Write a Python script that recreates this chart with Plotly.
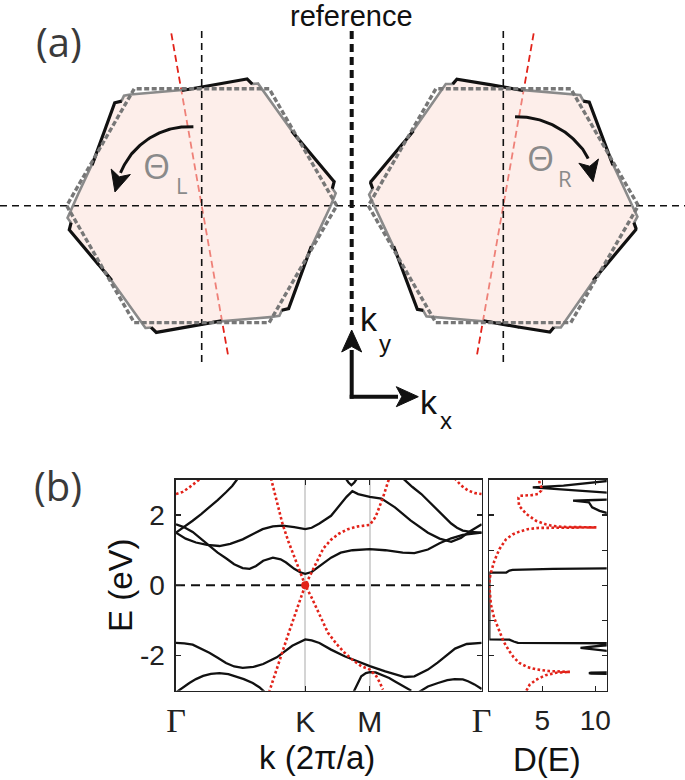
import numpy as np
import plotly.graph_objects as go

W, H = 685, 780

# ---------------- data: band structure (b) ----------------
k_ticks = [0.0, 0.6667, 1.0, 1.5774]
k_ticktext = ["<span style='font-family:Liberation Serif;font-size:34px'>Γ</span>", "K", "M",
              "<span style='font-family:Liberation Serif;font-size:34px'>Γ</span>"]
e_ticks = [-2, 0, 2]
e_ticktext = ["-2", "0", "2"]

# black bands (twisted bilayer)
c_rise_k = [0, 0.043, 0.086, 0.13, 0.172, 0.215, 0.258, 0.29, 0.32]
c_rise_E = [1.50, 1.66, 1.84, 2.03, 2.22, 2.43, 2.65, 2.83, 3.05]

c1_k = [0, 0.04, 0.086, 0.13, 0.172, 0.215, 0.258, 0.30, 0.344, 0.38, 0.413, 0.45, 0.50, 0.54,
        0.568, 0.61, 0.645, 0.667, 0.70, 0.74, 0.80, 0.85, 0.91, 1.0, 1.08, 1.17, 1.23, 1.30,
        1.36, 1.42, 1.48, 1.5774]
c1_E = [1.74, 1.66, 1.52, 1.32, 1.12, 0.93, 0.77, 0.60, 0.49, 0.47, 0.55, 0.70, 0.79, 0.74,
        0.65, 0.47, 0.36, 0.33, 0.38, 0.55, 0.79, 0.93, 1.0, 1.03, 1.0, 0.93, 0.92, 1.02,
        1.20, 1.34, 1.44, 1.50]

c2_k = [0, 0.05, 0.103, 0.16, 0.224, 0.28, 0.344, 0.40, 0.447, 0.50, 0.55, 0.61, 0.667, 0.70,
        0.74, 0.80, 0.84, 0.88, 0.91, 0.94, 1.0, 1.06, 1.13, 1.21, 1.30, 1.36, 1.42, 1.47,
        1.52, 1.5774]
c2_E = [1.50, 1.33, 1.22, 1.15, 1.12, 1.18, 1.31, 1.47, 1.60, 1.68, 1.70, 1.66, 1.60, 1.64,
        1.76, 1.98, 2.25, 2.52, 2.68, 2.60, 2.52, 2.47, 2.22, 1.85, 1.50, 1.33, 1.24, 1.35,
        1.55, 1.74]

c3_k = [1.17, 1.22, 1.266, 1.31, 1.352, 1.39, 1.42, 1.45, 1.48, 1.52, 1.5774]
c3_E = [3.05, 2.80, 2.60, 2.36, 2.12, 1.90, 1.76, 1.64, 1.56, 1.52, 1.50]

c4_k = [0.875, 0.89, 0.905, 0.92, 0.935]
c4_E = [3.05, 2.93, 2.85, 2.93, 3.05]

v1_k = [0, 0.043, 0.086, 0.13, 0.172, 0.215, 0.258, 0.30, 0.344, 0.40, 0.45, 0.52, 0.60, 0.667,
        0.70, 0.74, 0.80, 0.87, 0.93, 1.0, 1.08, 1.13, 1.18, 1.23, 1.30, 1.35, 1.39, 1.44, 1.50,
        1.5774]
v1_E = [-1.64, -1.65, -1.69, -1.80, -1.92, -2.06, -2.21, -2.31, -2.35, -2.32, -2.24, -2.05,
        -1.72, -1.54, -1.57, -1.64, -1.83, -2.02, -2.15, -2.30, -2.45, -2.54, -2.61, -2.59,
        -2.40, -2.20, -2.02, -1.80, -1.67, -1.64]

v2_k = [0, 0.035, 0.069, 0.103, 0.14, 0.18, 0.224, 0.27, 0.31, 0.35, 0.396, 0.43, 0.46]
v2_E = [-3.05, -2.90, -2.78, -2.67, -2.58, -2.52, -2.50, -2.53, -2.59, -2.67, -2.78, -2.90, -3.05]

v3_k = [0.915, 0.935, 0.956, 0.98, 1.0, 1.03, 1.06, 1.10, 1.128, 1.17, 1.214]
v3_E = [-3.05, -2.80, -2.59, -2.50, -2.47, -2.48, -2.54, -2.64, -2.73, -2.86, -3.0]

v4_k = [1.25, 1.30, 1.352, 1.40, 1.438, 1.48, 1.507, 1.54, 1.5774]
v4_E = [-3.05, -2.88, -2.78, -2.70, -2.67, -2.68, -2.73, -2.82, -2.95]

# red dotted bands (monolayer graphene)
ra_k = [0.49, 0.52, 0.55, 0.58, 0.61, 0.64, 0.667, 0.70, 0.74, 0.784, 0.83, 0.87, 0.91, 0.956,
        1.0, 1.034, 1.05, 1.068]
ra_E = [3.05, 2.40, 1.74, 1.25, 0.80, 0.38, 0.0, -0.35, -0.85, -1.35, -1.68, -1.92, -2.12,
        -2.30, -2.40, -2.59, -2.75, -2.97]

rb_k = [0.48, 0.52, 0.55, 0.58, 0.61, 0.64, 0.667, 0.70, 0.72, 0.76, 0.80, 0.84, 0.887, 0.94,
        1.0, 1.03, 1.068, 1.10]
rb_E = [-3.05, -2.35, -1.88, -1.38, -0.88, -0.42, 0.0, 0.38, 0.60, 1.05, 1.30, 1.47, 1.60,
        1.68, 1.72, 1.95, 2.50, 3.05]

rc_k = [0, 0.035, 0.069, 0.10, 0.129]
rc_E = [2.60, 2.66, 2.79, 2.92, 3.05]

rd_k = [1.438, 1.47, 1.507, 1.54, 1.5774]
rd_E = [3.05, 2.85, 2.70, 2.63, 2.60]

dirac_k = [0.6667]
dirac_E = [0.0]

# density of states
dos_black_E = [-3.0, -2.53, -2.515, -2.5, -2.485, -2.47, -1.93, -1.85, -1.78, -1.72, -1.68,
               -1.65, -1.64, -1.60, -1.545, -1.54, 0.36, 0.365, 0.42, 0.44, 0.47, 0.49, 2.0,
               2.05, 2.12, 2.22, 2.36, 2.38, 2.41, 2.43, 2.46, 2.6, 2.66, 2.75, 2.79, 2.84,
               2.93, 3.0]
dos_black_D = [13, 13, 9.6, 9.4, 9.6, 13, 13, 10.5, 8.6, 10.5, 13,
               13, 2.7, 2.3, 1.9, 0, 0, 1.6, 1.9, 2.2, 6, 13, 13,
               11.2, 10.4, 9.7, 9.4, 9.0, 7.9, 10, 13, 13, 10, 6, 4.1, 7,
               10.5, 12]

dos_red_E = [-3.0, -2.83, -2.69, -2.56, -2.49, -2.465, -2.455, -2.44, -2.39, -2.33, -2.21,
             -2.05, -1.88, -1.6, -1.3, -0.92, -0.54, -0.2, 0.0, 0.2, 0.36, 0.7, 1.03, 1.31,
             1.45, 1.53, 1.60, 1.635, 1.65, 1.665, 1.69, 1.74, 1.84, 2.03, 2.27, 2.5, 2.55,
             2.57, 2.6, 2.7, 2.8, 2.9, 3.0]
dos_red_D = [3.5, 3.8, 4.4, 5.3, 6.3, 7.6, 6.8, 5.6, 4.4, 3.6, 2.83,
             2.3, 1.9, 1.35, 0.95, 0.45, 0.15, 0.04, 0.0, 0.04, 0.15, 0.48, 0.95, 1.57,
             2.2, 2.83, 3.6, 4.6, 10.1, 7.0, 6.0, 5.3, 4.4, 3.5, 2.8, 2.75, 2.9,
             4.0, 4.6, 4.9, 4.9, 4.75, 4.7]

# ---------------- panel (a) geometry (pixel units) ----------------
R_HEX = 135
hex_left = dict(cx=201.7, cy=205.7, rot_black=10, rot_gray=5)
hex_right = dict(cx=503.3, cy=205.7, rot_black=-10, rot_gray=-5)
ref_x = 351.7

RED = "#e2231a"
BLACK = "#111111"
GRAY = "#8a8a8a"

fig = go.Figure()


def line(x, y, color, width, dash=None, xa="x3", ya="y3", fill=None, fillcolor=None):
    fig.add_trace(go.Scatter(x=list(x), y=list(y), mode="lines",
                             line=dict(color=color, width=width, dash=dash),
                             fill=fill, fillcolor=fillcolor, xaxis=xa, yaxis=ya,
                             showlegend=False, hoverinfo="skip"))


def hex_radius(phi, rot):
    a = R_HEX * np.cos(np.radians(30))
    d = np.mod(phi - rot, 60) - 30
    return a / np.cos(np.radians(d))


def masked(x, y, m):
    return ([xi if mi else None for xi, mi in zip(x, m)],
            [yi if mi else None for yi, mi in zip(y, m)])


phi = np.linspace(0, 360, 3601)

# red rotated axes (drawn first, fill goes over them)
for h, s in ((hex_left, -1), (hex_right, 1)):
    t, b = 175, 155
    a = np.radians(10)
    line([h["cx"] + s * t * np.sin(a), h["cx"] - s * b * np.sin(a)],
         [h["cy"] - t * np.cos(a), h["cy"] + b * np.cos(a)], RED, 1.8, "7px,4px")

# filled union of the rotated hexagons
for h in (hex_left, hex_right):
    ru = np.maximum(hex_radius(phi, h["rot_black"]), hex_radius(phi, h["rot_gray"]))
    line(h["cx"] + ru * np.cos(np.radians(phi)), h["cy"] - ru * np.sin(np.radians(phi)),
         "rgba(0,0,0,0)", 0, fill="toself", fillcolor="rgba(251,221,213,0.5)")

# black dashed crosshairs and reference line
line([0, W], [205.7, 205.7], BLACK, 1.6, "7px,5px")
for h in (hex_left, hex_right):
    line([h["cx"], h["cx"]], [31, 362], BLACK, 1.6, "7px,5px")
line([ref_x, ref_x], [31, 330], BLACK, 4, "8px,5px")

# hexagon outlines
for h in (hex_left, hex_right):
    rb_ = hex_radius(phi, h["rot_black"])
    rg_ = hex_radius(phi, h["rot_gray"])
    xb = h["cx"] + rb_ * np.cos(np.radians(phi))
    yb = h["cy"] - rb_ * np.sin(np.radians(phi))
    xg = h["cx"] + rg_ * np.cos(np.radians(phi))
    yg = h["cy"] - rg_ * np.sin(np.radians(phi))
    gx, gy = masked(xg, yg, rg_ >= rb_ - 0.4)
    line(gx, gy, GRAY, 2.6)
    bx, by = masked(xb, yb, rb_ >= rg_ - 0.4)
    line(bx, by, BLACK, 3.2)
    ang = np.radians(np.arange(0, 361, 60))
    line(h["cx"] + R_HEX * np.cos(ang), h["cy"] - R_HEX * np.sin(ang), "#777777", 3.4, "5px,2.5px")


def arrow_head(tip, base, length, width):
    tip = np.array(tip, float)
    base = np.array(base, float)
    u = (tip - base) / np.linalg.norm(tip - base)
    n = np.array([-u[1], u[0]])
    b = tip - u * length
    pts = [tip, b + n * width / 2, b + u * length * 0.25, b - n * width / 2, tip]
    line([p[0] for p in pts], [p[1] for p in pts], BLACK, 1, fill="toself", fillcolor=BLACK)


def curved_arrow(h, angs, radii, a0, a1, a_tip):
    order = np.argsort(angs)
    sa = np.array(angs)[order]
    sr = np.array(radii)[order]
    th = np.linspace(a0, a1, 60)
    r = np.interp(th, sa, sr)
    x = h["cx"] + r * np.cos(np.radians(th))
    y = h["cy"] - r * np.sin(np.radians(th))
    line(x, y, BLACK, 3)
    rt = np.interp(a_tip, sa, sr)
    tip = (h["cx"] + rt * np.cos(np.radians(a_tip)), h["cy"] - rt * np.sin(np.radians(a_tip)))
    arrow_head(tip, (x[-1], y[-1]), 21, 20)


curved_arrow(hex_left, [96, 115, 130, 142, 156, 171], [79.4, 83.4, 85.7, 87.1, 87.6, 87.8],
             96, 158, 171)
curved_arrow(hex_right, [15, 24, 35, 49, 67, 82.5], [93, 96.6, 97.5, 96.2, 93.2, 89.8],
             82.5, 29, 15)

# k_x / k_y axes arrows
ox, oy = ref_x, 396.7
line([ox, ox], [oy + 2, 350], BLACK, 4)
arrow_head((ox, 330), (ox, 352), 22, 20)
line([ox - 2, 398], [oy, oy], BLACK, 4)
arrow_head((418.3, oy), (396, oy), 22, 20)

# ---------------- panel (b) traces ----------------
# zero-energy dashed line
line([k_ticks[0], k_ticks[-1]], [0, 0], BLACK, 2, "9px,6px", "x", "y")
for kk, ee in ((c_rise_k, c_rise_E), (c1_k, c1_E), (c2_k, c2_E), (c3_k, c3_E), (c4_k, c4_E),
               (v1_k, v1_E), (v2_k, v2_E), (v3_k, v3_E), (v4_k, v4_E)):
    line(kk, ee, BLACK, 2.3, None, "x", "y")
for kk, ee in ((ra_k, ra_E), (rb_k, rb_E), (rc_k, rc_E), (rd_k, rd_E)):
    line(kk, ee, RED, 2.6, "2.6px,2.4px", "x", "y")
fig.add_trace(go.Scatter(x=dirac_k, y=dirac_E, mode="markers",
                         marker=dict(color=RED, size=8), xaxis="x", yaxis="y",
                         showlegend=False, hoverinfo="skip"))

line(dos_black_D, dos_black_E, BLACK, 2.3, None, "x2", "y2")
line(dos_red_D, dos_red_E, RED, 2.6, "2.6px,2.4px", "x2", "y2")

# ---------------- layout ----------------
TICKFONT = dict(family="Liberation Sans", size=28, color="#222")
frame = dict(showline=True, linecolor="#222", linewidth=1.6, mirror="ticks", ticks="inside",
             ticklen=5, tickcolor="#222", tickwidth=1.3, zeroline=False, automargin=False)

fig.update_layout(
    template="none",
    width=W, height=H, margin=dict(l=0, r=0, t=0, b=0, pad=0, autoexpand=False),
    paper_bgcolor="white", plot_bgcolor="rgba(0,0,0,0)",
    xaxis=dict(domain=[176 / W, 481.7 / W], range=[0, k_ticks[-1]], anchor="y",
               tickvals=k_ticks, ticktext=k_ticktext, showgrid=True, gridcolor="#d4d4d4",
               gridwidth=1.6, tickfont=dict(family="Liberation Sans", size=30, color="#222"),
               ticklabelstandoff=4, **frame),
    yaxis=dict(domain=[(H - 690.7) / H, (H - 480) / H], range=[-3, 3], anchor="x",
               tickvals=e_ticks, ticktext=e_ticktext, showgrid=False, tickfont=TICKFONT,
               ticklabelstandoff=4, **frame),
    xaxis2=dict(domain=[489.3 / W, 606.7 / W], range=[0, 11.07], anchor="y2",
                tickvals=[5, 10], showgrid=False, tickfont=TICKFONT, ticklabelstandoff=4,
                **frame),
    yaxis2=dict(domain=[(H - 690.7) / H, (H - 480) / H], range=[-3, 3], anchor="x2",
                dtick=1, showticklabels=False, showgrid=False, **frame),
    xaxis3=dict(domain=[0, 1], range=[0, W], visible=False, anchor="y3", automargin=False),
    yaxis3=dict(domain=[0, 1], range=[H, 0], visible=False, anchor="x3", automargin=False),
)


def text(x, y, s, size, color=BLACK, family="Liberation Sans", angle=0):
    fig.add_annotation(x=x, y=y, xref="x3", yref="y3", text=s, showarrow=False,
                       font=dict(family=family, size=size, color=color), textangle=angle,
                       xanchor="center", yanchor="middle")


text(59, 41, "(a)", 40, "#3a3a3a", "Open Sans")
text(58, 485, "(b)", 40, "#3a3a3a", "Open Sans")
text(351, 16, "reference", 29)
text(156, 165, "Θ", 35, GRAY, "Open Sans")
text(181, 185, "L", 22, GRAY, "Open Sans")
text(540, 157, "Θ", 35, GRAY, "Open Sans")
text(565, 178, "R", 22, GRAY, "Open Sans")
text(368.5, 318.5, "k", 34)
text(384.5, 343.5, "y", 24)
text(429, 402, "k", 34)
text(446, 420, "x", 24)
text(120, 585, "E (eV)", 33, angle=-90)
text(317, 757, "k (2π/a)", 33)
text(547, 759, "D(E)", 33)

fig.write_html("out.html", config={"displayModeBar": False, "staticPlot": True},
               post_script="document.body.style.margin='0';document.body.style.overflow='hidden';")
